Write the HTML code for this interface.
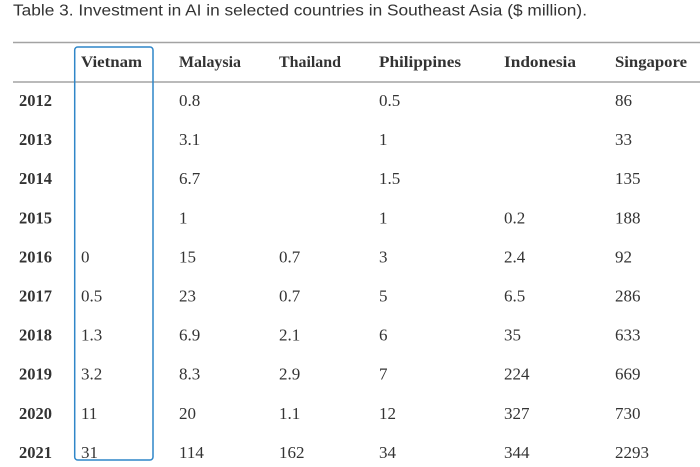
<!DOCTYPE html>
<html>
<head>
<meta charset="utf-8">
<style>
  html, body { margin:0; padding:0; background:#fff; }
  body { width:700px; height:467px; overflow:hidden; }
  svg { display:block; }
  .t { font-family:"Liberation Sans", sans-serif; font-size:15.5px; fill:#333; }
  .h { font-family:"Liberation Serif", serif; font-size:16px; font-weight:bold; fill:#333; }
  .y { font-family:"Liberation Serif", serif; font-size:16.5px; font-weight:bold; fill:#333; }
  .d { font-family:"Liberation Serif", serif; font-size:17px; fill:#333; }
</style>
</head>
<body>
<svg width="700" height="467" viewBox="0 0 700 467" xmlns="http://www.w3.org/2000/svg">
  <text class="t" x="13" y="15.5" textLength="574" lengthAdjust="spacingAndGlyphs">Table 3. Investment in AI in selected countries in Southeast Asia ($ million).</text>

  <line x1="13" y1="42.5" x2="700" y2="42.5" stroke="#a3a3a3" stroke-width="1.5"/>
  <line x1="13" y1="82" x2="700" y2="82" stroke="#a3a3a3" stroke-width="1.5"/>

  <rect x="74.7" y="47" width="78.3" height="413" rx="3" ry="3" fill="none" stroke="#2f86c8" stroke-width="1.5"/>

  <!-- headers -->
  <text class="h" x="81" y="67" textLength="61" lengthAdjust="spacingAndGlyphs">Vietnam</text>
  <text class="h" x="179" y="67" textLength="62" lengthAdjust="spacingAndGlyphs">Malaysia</text>
  <text class="h" x="279" y="67" textLength="62" lengthAdjust="spacingAndGlyphs">Thailand</text>
  <text class="h" x="379" y="67" textLength="82" lengthAdjust="spacingAndGlyphs">Philippines</text>
  <text class="h" x="504" y="67" textLength="72" lengthAdjust="spacingAndGlyphs">Indonesia</text>
  <text class="h" x="615" y="67" textLength="72" lengthAdjust="spacingAndGlyphs">Singapore</text>

  <g>
    <text class="y" x="19" y="106">2012</text>
    <text class="d" x="179" y="106">0.8</text>
    <text class="d" x="379" y="106">0.5</text>
    <text class="d" x="615" y="106">86</text>

    <text class="y" x="19" y="145.1">2013</text>
    <text class="d" x="179" y="145.1">3.1</text>
    <text class="d" x="379" y="145.1">1</text>
    <text class="d" x="615" y="145.1">33</text>

    <text class="y" x="19" y="184.2">2014</text>
    <text class="d" x="179" y="184.2">6.7</text>
    <text class="d" x="379" y="184.2">1.5</text>
    <text class="d" x="615" y="184.2">135</text>

    <text class="y" x="19" y="223.3">2015</text>
    <text class="d" x="179" y="223.3">1</text>
    <text class="d" x="379" y="223.3">1</text>
    <text class="d" x="504" y="223.3">0.2</text>
    <text class="d" x="615" y="223.3">188</text>

    <text class="y" x="19" y="262.4">2016</text>
    <text class="d" x="81" y="262.4">0</text>
    <text class="d" x="179" y="262.4">15</text>
    <text class="d" x="279" y="262.4">0.7</text>
    <text class="d" x="379" y="262.4">3</text>
    <text class="d" x="504" y="262.4">2.4</text>
    <text class="d" x="615" y="262.4">92</text>

    <text class="y" x="19" y="301.5">2017</text>
    <text class="d" x="81" y="301.5">0.5</text>
    <text class="d" x="179" y="301.5">23</text>
    <text class="d" x="279" y="301.5">0.7</text>
    <text class="d" x="379" y="301.5">5</text>
    <text class="d" x="504" y="301.5">6.5</text>
    <text class="d" x="615" y="301.5">286</text>

    <text class="y" x="19" y="340.6">2018</text>
    <text class="d" x="81" y="340.6">1.3</text>
    <text class="d" x="179" y="340.6">6.9</text>
    <text class="d" x="279" y="340.6">2.1</text>
    <text class="d" x="379" y="340.6">6</text>
    <text class="d" x="504" y="340.6">35</text>
    <text class="d" x="615" y="340.6">633</text>

    <text class="y" x="19" y="379.7">2019</text>
    <text class="d" x="81" y="379.7">3.2</text>
    <text class="d" x="179" y="379.7">8.3</text>
    <text class="d" x="279" y="379.7">2.9</text>
    <text class="d" x="379" y="379.7">7</text>
    <text class="d" x="504" y="379.7">224</text>
    <text class="d" x="615" y="379.7">669</text>

    <text class="y" x="19" y="418.8">2020</text>
    <text class="d" x="81" y="418.8">11</text>
    <text class="d" x="179" y="418.8">20</text>
    <text class="d" x="279" y="418.8">1.1</text>
    <text class="d" x="379" y="418.8">12</text>
    <text class="d" x="504" y="418.8">327</text>
    <text class="d" x="615" y="418.8">730</text>

    <text class="y" x="19" y="457.9">2021</text>
    <text class="d" x="81" y="457.9">31</text>
    <text class="d" x="179" y="457.9">114</text>
    <text class="d" x="279" y="457.9">162</text>
    <text class="d" x="379" y="457.9">34</text>
    <text class="d" x="504" y="457.9">344</text>
    <text class="d" x="615" y="457.9">2293</text>
  </g>
</svg>
</body>
</html>
